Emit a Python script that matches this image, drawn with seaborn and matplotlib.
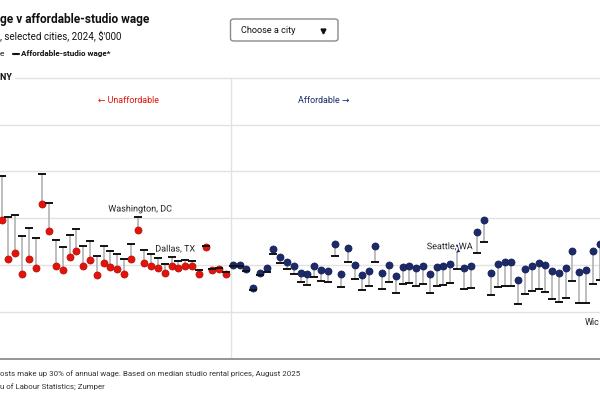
import pandas as pd
import matplotlib.pyplot as plt
import matplotlib.patheffects as pe
from matplotlib.lines import Line2D
from matplotlib.patches import FancyBboxPatch
import seaborn as sns

# -------------------- DATA --------------------
# median wage and affordable-studio wage, $'000, cities ranked left to right
wage = [79.2, 62.7, 65.1, 56.2, 62.7, 58.8, 86.1, 74.7, 59.7, 58.0,
        63.5, 66.0, 59.7, 62.0, 55.9, 61.0, 59.0, 58.2, 56.0, 62.7,
        74.8, 60.9, 59.7, 58.6, 56.7, 59.7, 58.7, 59.7, 59.6, 56.3,
        67.8, 57.9, 58.3, 56.2, 59.9, 59.9, 58.4, 50.0, 56.5, 58.6,
        67.0, 63.5, 61.3, 59.7, 56.6, 56.0, 59.6, 58.0, 57.6, 68.8,
        56.3, 67.1, 60.0, 55.9, 57.4, 68.2, 56.6, 59.9, 55.3, 59.0,
        59.7, 58.6, 59.7, 56.0, 59.0, 59.7, 60.6, 67.1, 58.8, 59.6,
        74.1, 79.1, 56.7, 60.6, 61.2, 61.2, 53.6, 58.2, 59.7, 61.0,
        60.0, 57.4, 56.5, 58.6, 66.0, 57.0, 58.0, 65.9, 69.1]
affordable = [98.0, 80.5, 81.5, 72.4, 75.7, 71.7, 98.9, 86.5, 70.7, 67.8,
              73.0, 75.3, 68.2, 70.4, 63.7, 68.1, 66.1, 64.8, 62.7, 69.0,
              80.4, 66.5, 64.7, 63.1, 60.6, 63.4, 61.8, 62.3, 61.8, 58.0,
              68.2, 58.3, 58.6, 56.9, 59.6, 59.4, 57.4, 49.2, 55.6, 57.0,
              64.8, 61.0, 58.3, 56.2, 52.6, 51.5, 54.7, 53.2, 52.6, 63.8,
              50.7, 61.3, 53.9, 49.4, 50.9, 61.4, 49.6, 52.9, 48.2, 51.9,
              52.4, 51.2, 51.9, 47.9, 50.9, 51.3, 52.2, 58.3, 49.9, 50.2,
              65.0, 70.0, 47.3, 50.6, 51.2, 50.9, 43.5, 47.7, 48.8, 49.6,
              48.3, 45.3, 44.1, 45.8, 53.2, 43.8, 43.8, 51.8, 53.6]
grid_values = [40, 60, 80, 100, 120, 140]

RED = "#e3120b"
NAVY = "#1b2a6b"
FONT = ["Liberation Sans Narrow", "Roboto", "DejaVu Sans"]

df = pd.DataFrame({"rank": range(len(wage)), "wage": wage, "affordable": affordable})
df["status"] = ["Unaffordable" if a > w else "Affordable" for w, a in zip(wage, affordable)]

# -------------------- PLOT --------------------
sns.set_style("white")
plt.rcParams["font.family"] = FONT

fig = plt.figure(figsize=(6, 4), dpi=100)
ax = fig.add_axes([0, 1 - 359 / 400, 1, (359 - 78) / 400])
ax.set_xlim(-0.25, 88.05)
ax.set_ylim(19.8, 139.9)

for v in grid_values:
    ax.axhline(v, color="#e2e2e2", lw=1, zorder=0, clip_on=False)
ax.axvline(33.7, color="#e2e2e2", lw=1, zorder=0)

ax.vlines(df["rank"], df["wage"], df["affordable"], color="#b3b3b3", lw=1.2, zorder=1)
for status, fill, edge in [("Unaffordable", RED, "#b30d08"), ("Affordable", NAVY, "#111c4e")]:
    sns.scatterplot(data=df[df["status"] == status], x="rank", y="wage", color=fill,
                    s=26, edgecolor=edge, linewidth=0.5, legend=False, ax=ax, zorder=2)
ax.plot(df["rank"], df["affordable"], ls="none", marker="_", color="#111111",
        markersize=5.5, mew=1.4, zorder=3)

sns.despine(ax=ax, left=True, top=True, right=True)
ax.spines["bottom"].set_color("#8c8c8c")
ax.spines["bottom"].set_linewidth(1.3)
ax.set_xticks([])
ax.set_yticks([])
ax.set_xlabel("")
ax.set_ylabel("")

halo = [pe.withStroke(linewidth=2.5, foreground="white")]
ax.text(20.35, 83.9, "Washington, DC", ha="center", va="center", fontsize=6.5,
        color="#222222", path_effects=halo, zorder=5)
ax.text(22.6, 66.8, "Dallas, TX", ha="left", va="center", fontsize=6.5,
        color="#222222", path_effects=halo, zorder=5)
ax.text(65.9, 67.8, "Seattle, WA", ha="center", va="center", fontsize=6.5,
        color="#222222", path_effects=halo, zorder=5)
ax.text(85.85, 35.6, "Wic", ha="left", va="center", fontsize=6.5,
        color="#222222", zorder=5)
ax.text(18.6, 130.3, "\u2190 Unaffordable", ha="center", va="center", fontsize=6.4, color=RED)
ax.text(47.4, 130.3, "Affordable \u2192", ha="center", va="center", fontsize=6.4, color=NAVY)
ax.text(-0.25, 139.9, "NY ", ha="left", va="center", fontsize=6.5, fontweight="bold",
        color="#111111", zorder=5,
        bbox=dict(facecolor="white", edgecolor="none", pad=0.5))

# -------------------- HEADER / FOOTER --------------------
fig.text(0, 1 - 20 / 400, "ge v affordable-studio wage", ha="left", va="center",
         fontsize=8.6, fontweight="bold", color="#111111")
fig.text(0, 1 - 35.5 / 400, ", selected cities, 2024, $'000", ha="left", va="center",
         fontsize=7, color="#111111")
fig.text(0, 1 - 53.5 / 400, "e", ha="left", va="center", fontsize=6, color="#111111")
fig.add_artist(Line2D([13 / 600, 18.5 / 600], [1 - 53.5 / 400] * 2, color="#111111",
                      lw=1.5, transform=fig.transFigure))
fig.text(21 / 600, 1 - 53.5 / 400, "Affordable-studio wage*", ha="left", va="center",
         fontsize=5.9, fontweight="bold", color="#111111")

fig.add_artist(FancyBboxPatch((230.5 / 600, 1 - 41 / 400), 107.5 / 600, 22 / 400,
                              boxstyle="round,pad=0,rounding_size=0.006",
                              transform=fig.transFigure, facecolor="white",
                              edgecolor="#8a8a8a", lw=1))
fig.text(241 / 600, 1 - 30.5 / 400, "Choose a city", ha="left", va="center",
         fontsize=6.6, color="#111111")
fig.add_artist(Line2D([322.5 / 600], [1 - 30.5 / 400], marker="v", color="#111111",
                      markersize=3.5, transform=fig.transFigure))

fig.text(0, 1 - 374 / 400,
         "osts make up 30% of annual wage. Based on median studio rental prices, August 2025",
         ha="left", va="center", fontsize=5.7, color="#333333")
fig.text(0, 1 - 387 / 400, "u of Labour Statistics; Zumper", ha="left", va="center",
         fontsize=5.7, color="#333333")

fig.savefig("out.png", dpi=100)
